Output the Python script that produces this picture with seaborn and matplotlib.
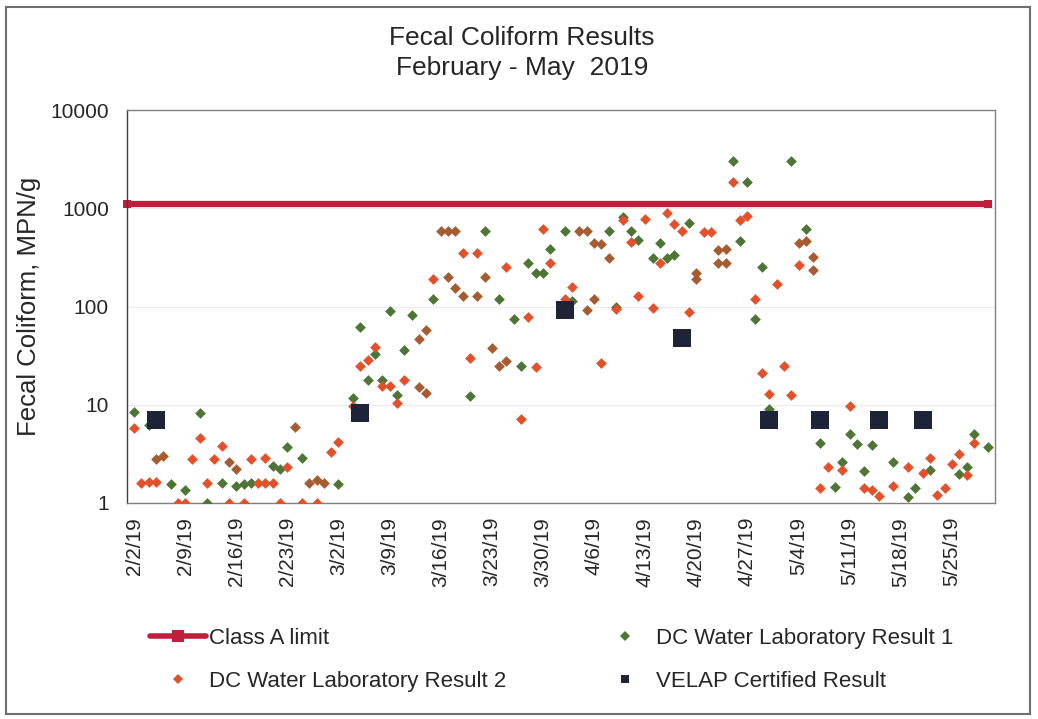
from pathlib import Path

import pandas as pd
import seaborn as sns
import matplotlib
import matplotlib.pyplot as plt
from matplotlib.lines import Line2D
from matplotlib.patches import Rectangle

matplotlib.use("Agg")

OUTPUT_PNG = Path("out.png")
YEAR = 2019

# DC Water Laboratory Result 1 (green)
r1_dates = [
    "2/2", "2/4", "2/5", "2/6", "2/7", "2/9", "2/11", "2/12", "2/14", "2/15",
    "2/16", "2/16", "2/17", "2/18", "2/21", "2/22", "2/23", "2/24", "2/25", "2/26",
    "2/27", "2/28", "3/2", "3/4", "3/5", "3/6", "3/7", "3/8", "3/9", "3/10",
    "3/11", "3/12", "3/13", "3/13", "3/14", "3/14", "3/15", "3/16", "3/17", "3/17",
    "3/18", "3/18", "3/19", "3/20", "3/21", "3/22", "3/22", "3/23", "3/24", "3/24",
    "3/25", "3/26", "3/27", "3/28", "3/29", "3/30", "3/31", "4/2", "4/3", "4/4",
    "4/5", "4/5", "4/6", "4/6", "4/7", "4/8", "4/8", "4/9", "4/10", "4/11",
    "4/12", "4/14", "4/15", "4/16", "4/17", "4/19", "4/20", "4/20", "4/23", "4/23",
    "4/24", "4/24", "4/25", "4/26", "4/27", "4/28", "4/29", "4/30", "5/3", "5/4",
    "5/5", "5/5", "5/6", "5/6", "5/7", "5/9", "5/10", "5/11", "5/12", "5/13",
    "5/14", "5/17", "5/19", "5/20", "5/22", "5/26", "5/27", "5/28", "5/30",
]
r1_values = [
    8.4, 6.2, 2.8, 3.0, 1.56, 1.36, 8.3, 1.0, 1.6, 2.6,
    2.2, 1.5, 1.55, 1.6, 2.4, 2.2, 3.7, 5.9, 2.9, 1.6,
    1.7, 1.6, 1.56, 11.6, 62, 17.9, 33, 17.9, 90, 12.5,
    36, 82, 47, 15.3, 58, 13.3, 118, 580, 580, 198,
    580, 153, 128, 12.3, 128, 580, 198, 37.5, 119, 25,
    28, 75, 25, 275, 218, 218, 381, 580, 113, 585,
    585, 93, 118, 440, 430, 310, 580, 100, 820, 590,
    475, 315, 440, 310, 335, 715, 218, 190, 376, 275,
    383, 280, 3060, 465, 1850, 75, 255, 9, 3060, 440,
    610, 465, 320, 235, 4.1, 1.46, 2.6, 5.0, 4.0, 2.1,
    3.9, 2.63, 1.16, 1.41, 2.17, 1.97, 2.3, 5.0, 3.7,
]

# DC Water Laboratory Result 2 (orange-red)
r2_dates = [
    "2/2", "2/3", "2/4", "2/5", "2/5", "2/6", "2/8", "2/9", "2/10", "2/11",
    "2/12", "2/13", "2/14", "2/15", "2/15", "2/16", "2/17", "2/18", "2/19", "2/20",
    "2/20", "2/21", "2/22", "2/23", "2/24", "2/25", "2/26", "2/27", "2/27", "2/28",
    "3/1", "3/2", "3/4", "3/5", "3/6", "3/7", "3/8", "3/9", "3/10", "3/11",
    "3/13", "3/13", "3/14", "3/14", "3/15", "3/16", "3/17", "3/17", "3/18", "3/18",
    "3/19", "3/19", "3/20", "3/21", "3/21", "3/22", "3/23", "3/24", "3/25", "3/25",
    "3/27", "3/28", "3/29", "3/30", "3/31", "4/2", "4/3", "4/4", "4/5", "4/5",
    "4/6", "4/6", "4/7", "4/7", "4/8", "4/9", "4/10", "4/11", "4/12", "4/13",
    "4/14", "4/15", "4/16", "4/17", "4/18", "4/19", "4/20", "4/20", "4/21", "4/22",
    "4/23", "4/23", "4/24", "4/24", "4/25", "4/26", "4/27", "4/28", "4/29", "4/30",
    "5/1", "5/2", "5/3", "5/4", "5/4", "5/5", "5/6", "5/6", "5/7", "5/8",
    "5/10", "5/11", "5/13", "5/14", "5/15", "5/17", "5/19", "5/21", "5/22", "5/23",
    "5/24", "5/25", "5/26", "5/27", "5/28",
]
r2_values = [
    5.8, 1.6, 1.65, 1.65, 2.8, 3.0, 1.0, 1.0, 2.8, 4.6,
    1.6, 2.8, 3.8, 1.0, 2.6, 2.2, 1.0, 2.8, 1.6, 1.6,
    2.85, 1.6, 1.0, 2.3, 5.9, 1.0, 1.6, 1.0, 1.7, 1.6,
    3.3, 4.2, 9.6, 25, 28.5, 39, 15.5, 15.5, 10.3, 18,
    47, 15.3, 58, 13.3, 190, 580, 580, 198, 580, 153,
    347, 128, 30, 347, 128, 198, 37.5, 25, 250, 28,
    7.1, 77.5, 24, 610, 280, 118, 157, 585, 585, 93,
    118, 440, 430, 26.5, 310, 94, 760, 455, 128, 780,
    96, 275, 900, 690, 580, 87, 218, 190, 570, 570,
    376, 275, 383, 280, 1850, 760, 830, 118, 21, 13,
    168, 24.8, 12.6, 440, 265, 465, 320, 235, 1.41, 2.3,
    2.17, 9.8, 1.41, 1.36, 1.18, 1.49, 2.3, 2.0, 2.9, 1.2,
    1.41, 2.5, 3.15, 1.93, 4.1,
]

# VELAP Certified Result
velap_dates = ["2/5", "3/5", "4/2", "4/18", "4/30", "5/7", "5/15", "5/21"]
velap_values = [7.0, 8.2, 92, 47.5, 7.0, 7.0, 7.0, 7.0]

# Class A limit
limit_dates = ["2/1", "5/30"]
limit_values = [1100, 1100]

tick_labels = [
    "2/2/19", "2/9/19", "2/16/19", "2/23/19", "3/2/19", "3/9/19", "3/16/19",
    "3/23/19", "3/30/19", "4/6/19", "4/13/19", "4/20/19", "4/27/19", "5/4/19",
    "5/11/19", "5/18/19", "5/25/19",
]
y_ticks = [1, 10, 100, 1000, 10000]

GREEN = "#4e7535"
RED = "#e4502a"
BROWN = "#a65c30"
NAVY = "#1f2337"
LIMIT = "#c01f3c"


def to_dates(days):
    return pd.to_datetime([f"{YEAR}/{d}" for d in days], format="%Y/%m/%d")


def main() -> None:
    r1 = pd.DataFrame({"date": to_dates(r1_dates), "value": r1_values})
    r2 = pd.DataFrame({"date": to_dates(r2_dates), "value": r2_values})
    velap = pd.DataFrame({"date": to_dates(velap_dates), "value": velap_values})
    limit = pd.DataFrame({"date": to_dates(limit_dates), "value": limit_values})

    # readings where both labs agree print as a mixed brown
    both = r1.merge(r2, on=["date", "value"])
    r1_only = r1.merge(both, on=["date", "value"], how="left", indicator=True)
    r1_only = r1_only[r1_only["_merge"] == "left_only"]
    r2_only = r2.merge(both, on=["date", "value"], how="left", indicator=True)
    r2_only = r2_only[r2_only["_merge"] == "left_only"]

    sns.set_style("white")
    plt.rcParams["font.family"] = ["Liberation Sans", "DejaVu Sans"]

    fig = plt.figure(figsize=(10.38, 7.19), dpi=100)
    ax = fig.add_axes([127 / 1038, 1 - 503 / 719, 868 / 1038, 393 / 719])

    for y in y_ticks:
        ax.axhline(y, color="#ececec", lw=0.8, zorder=0)

    sns.lineplot(data=limit, x="date", y="value", ax=ax, color=LIMIT, lw=4.5,
                 marker="s", markersize=6, markeredgewidth=0, clip_on=False,
                 zorder=2)
    sns.scatterplot(data=r1_only, x="date", y="value", ax=ax, color=GREEN,
                    marker="D", s=30, linewidth=0, zorder=3)
    sns.scatterplot(data=r2_only, x="date", y="value", ax=ax, color=RED,
                    marker="D", s=30, linewidth=0, zorder=4)
    sns.scatterplot(data=both, x="date", y="value", ax=ax, color=BROWN,
                    marker="D", s=30, linewidth=0, zorder=4)
    sns.scatterplot(data=velap, x="date", y="value", ax=ax, color=NAVY,
                    marker="s", s=170, linewidth=0, zorder=5)

    ax.set_yscale("log")
    ax.set_ylim(1, 10000)
    ax.set_yticks(y_ticks)
    ax.set_yticklabels([str(v) for v in y_ticks])
    ax.minorticks_off()

    start = pd.Timestamp(f"{YEAR}-02-02")
    ax.set_xlim(start - pd.Timedelta(days=0.96), start + pd.Timedelta(days=117.9))
    ax.set_xticks(pd.to_datetime(tick_labels, format="%m/%d/%y"))
    ax.set_xticklabels(tick_labels, rotation=90)

    ax.tick_params(axis="y", length=0, pad=13, labelsize=15)
    ax.tick_params(axis="x", length=0, pad=10, labelsize=15)
    ax.set_xlabel("")
    ax.set_ylabel("Fecal Coliform, MPN/g", fontsize=18.5)
    ax.yaxis.set_label_coords(-0.099, 0.5)
    for side, spine in ax.spines.items():
        spine.set_color("#808080")
        spine.set_linewidth(1.0)
    ax.spines["left"].set_color("#404040")

    fig.text(0.503, 1 - 53 / 719, "Fecal Coliform Results\nFebruary - May  2019",
             ha="center", va="center", fontsize=19, linespacing=1.35)

    handles = [
        Line2D([], [], color=LIMIT, lw=4, marker="s", markersize=8,
               markeredgewidth=0),
        Line2D([], [], color=RED, lw=0, marker="D", markersize=5.5,
               markeredgewidth=0),
        Line2D([], [], color=GREEN, lw=0, marker="D", markersize=5.5,
               markeredgewidth=0),
        Line2D([], [], color=NAVY, lw=0, marker="s", markersize=6,
               markeredgewidth=0),
    ]
    labels = [
        "Class A limit",
        "DC Water Laboratory Result 2",
        "DC Water Laboratory Result 1",
        "VELAP Certified Result",
    ]
    fig.legend(handles, labels, ncol=2, frameon=False, fontsize=16,
               loc="upper left", bbox_to_anchor=(150 / 1038, 1 - 628 / 719),
               borderpad=0, borderaxespad=0, handlelength=2.5,
               handletextpad=0.15, columnspacing=4.1, labelspacing=0.98)

    # outer chart border
    fig.patches.append(Rectangle((6 / 1038, 5 / 719), 1024 / 1038, 707 / 719,
                                 transform=fig.transFigure, fill=False,
                                 edgecolor="#6e6e6e", lw=1.5))

    fig.savefig(OUTPUT_PNG, dpi=100)


if __name__ == "__main__":
    main()
